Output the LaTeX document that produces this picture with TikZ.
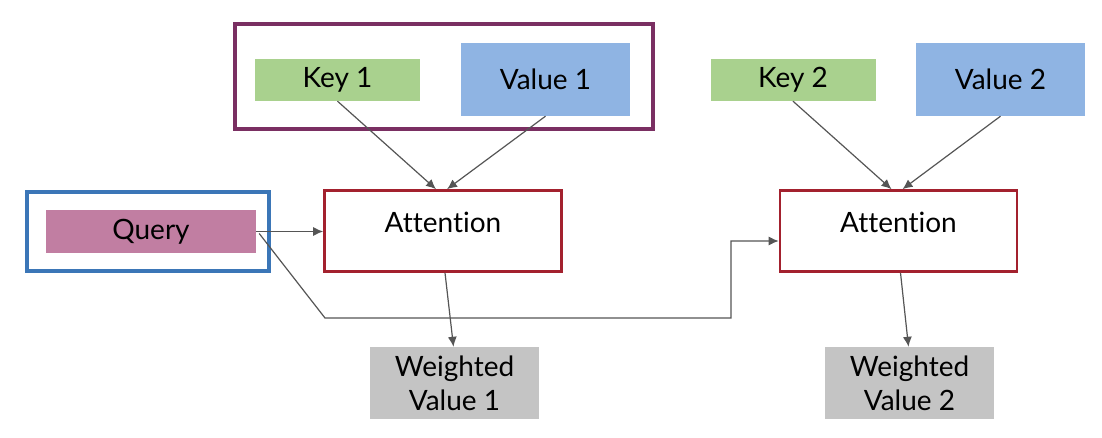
\documentclass[tikz,border=0pt]{standalone}
\usepackage{fontspec}
\setmainfont{Lato}[Ligatures={NoCommon}]
\usetikzlibrary{arrows.meta,calc}
\definecolor{keyg}{HTML}{A9D18E}
\definecolor{valb}{HTML}{8FB4E3}
\definecolor{qpink}{HTML}{C17EA2}
\definecolor{wgray}{HTML}{C4C4C4}
\definecolor{attred}{HTML}{A3212E}
\definecolor{grpurp}{HTML}{7A2F62}
\definecolor{grblue}{HTML}{3B76B7}
\definecolor{arr}{HTML}{555555}
\tikzset{
  box/.style={draw=none, minimum width=#1, inner sep=0pt, font=\fontsize{28}{32}\selectfont},
  keybox/.style={box=165pt, fill=keyg, minimum height=42pt},
  valbox/.style={box=169pt, fill=valb, minimum height=73pt},
  qbox/.style={box=210pt, fill=qpink, minimum height=43pt},
  attbox/.style={draw=attred, line width=2.6pt, fill=white, minimum width=237pt, minimum height=81pt, inner sep=0pt},
  wbox/.style={box=169pt, fill=wgray, minimum height=72pt, align=center, font=\fontsize{28}{34}\selectfont},
  grp/.style={line width=3.5pt, fill=none},
  conn/.style={draw=arr, line width=1.2pt, -{Latex[length=10pt,width=9pt]}},
  lbl/.style={font=\fontsize{28}{32}\selectfont, inner sep=0pt}
}
\begin{document}
\begin{tikzpicture}[x=1pt,y=-1pt]
\useasboundingbox (0,0) rectangle (1102,438);
% groups
\draw[grp, draw=grpurp] (235,24) rectangle (653,129);
\draw[grp, draw=grblue] (27,192) rectangle (269,271);
% boxes
\node[keybox] (k1) at (337.5,80) {Key 1};
\node[valbox] (v1) at (545.5,79.5) {Value 1};
\node[keybox] (k2) at (793,80) {Key 2};
\node[valbox] (v2) at (1000.5,79.5) {Value 2};
\node[qbox] (q) at (151,231.5) {Query};
\node[attbox] (a1) at (443,231) {};
\node[lbl] at (443,222) {Attention};
\node[attbox] (a2) at (898.5,231) {};
\node[lbl] at (898.5,222) {Attention};
\node[wbox] (w1) at (454.5,383) {Weighted\\Value 1};
\node[wbox] (w2) at (909.5,383) {Weighted\\Value 2};
% connectors
\draw[conn] (k1.south) -- ($(a1.north)+(-7,0)$);
\draw[conn] (v1.south) -- ($(a1.north)+(4,0)$);
\draw[conn] (k2.south) -- ($(a2.north)+(-7,0)$);
\draw[conn] (v2.south) -- ($(a2.north)+(4,0)$);
\draw[conn] (q.east) -- (a1.west |- q.east);
\coordinate (c1) at (325,318);
\coordinate (c2) at (731,318);
\coordinate (c3) at (731,241);
\draw[conn] ($(q.east)+(3,2)$) -- (c1) -- (c2) -- (c3) -- (a2.west |- c3);
\draw[conn] ($(a1.south)+(2,0)$) -- ($(w1.north)+(-1,0)$);
\draw[conn] ($(a2.south)+(2,0)$) -- ($(w2.north)+(-1,0)$);
\end{tikzpicture}
\end{document}
